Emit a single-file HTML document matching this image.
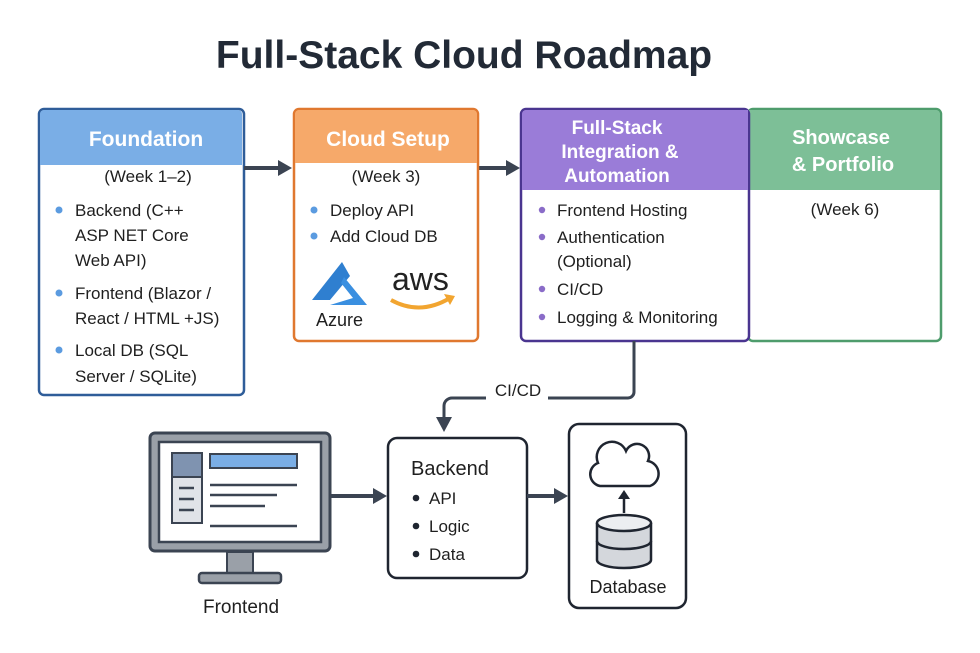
<!DOCTYPE html>
<html><head><meta charset="utf-8"><style>
html,body{margin:0;padding:0;background:#fff;}
svg{display:block;font-family:"Liberation Sans",sans-serif;}
</style></head><body>
<svg width="980" height="653" viewBox="0 0 980 653" xmlns="http://www.w3.org/2000/svg">
<rect width="980" height="653" fill="#fff"/>
<text x="464" y="68" text-anchor="middle" font-size="39" font-weight="bold" fill="#222a36">Full-Stack Cloud Roadmap</text>

<!-- Foundation -->
<rect x="39" y="109" width="205" height="286" rx="5" fill="#fff" stroke="#2f5d99" stroke-width="2.5"/>
<path d="M40 165 V114 a4 4 0 0 1 4 -4 H238 a4 4 0 0 1 4 4 V165 Z" fill="#7aaee6"/>
<text x="146" y="146" text-anchor="middle" font-size="21" font-weight="bold" fill="#fff">Foundation</text>
<g font-size="17" fill="#1f1f1f">
<text x="148" y="182" text-anchor="middle">(Week 1–2)</text>
<text x="75" y="216">Backend (C++</text>
<text x="75" y="241">ASP NET Core</text>
<text x="75" y="266">Web API)</text>
<text x="75" y="299">Frontend (Blazor /</text>
<text x="75" y="324">React / HTML +JS)</text>
<text x="75" y="356">Local DB (SQL</text>
<text x="75" y="382">Server / SQLite)</text>
</g>
<g fill="#5b9be0"><circle cx="59" cy="210" r="3.5"/><circle cx="59" cy="293" r="3.5"/><circle cx="59" cy="350" r="3.5"/></g>

<line x1="244" y1="168" x2="280" y2="168" stroke="#3b4452" stroke-width="4"/>
<polygon points="278,160 292,168 278,176" fill="#3b4452"/>
<line x1="478" y1="168" x2="508" y2="168" stroke="#3b4452" stroke-width="4"/>
<polygon points="506,160 520,168 506,176" fill="#3b4452"/>

<!-- Cloud Setup -->
<rect x="294" y="109" width="184" height="232" rx="5" fill="#fff" stroke="#e0782f" stroke-width="2.5"/>
<path d="M295 163 V114 a4 4 0 0 1 4 -4 H473 a4 4 0 0 1 4 4 V163 Z" fill="#f6a96a"/>
<text x="388" y="146" text-anchor="middle" font-size="21" font-weight="bold" fill="#fff">Cloud Setup</text>
<g font-size="17" fill="#1f1f1f">
<text x="386" y="182" text-anchor="middle">(Week 3)</text>
<text x="330" y="216">Deploy API</text>
<text x="330" y="242">Add Cloud DB</text>
<text x="316" y="326" font-size="18">Azure</text>
<text x="392" y="290" font-size="32" fill="#222">aws</text>
</g>
<g fill="#5b9be0"><circle cx="314" cy="210" r="3.5"/><circle cx="314" cy="236" r="3.5"/></g>
<polygon points="342,262 312,300 330,300 350,276" fill="#2f7fd0"/>
<polygon points="344,277 367,305 330,305 353,298 341,283" fill="#3a8fe0"/>
<path d="M391 300 Q420 316 450 298" fill="none" stroke="#f2a530" stroke-width="4"/>
<polygon points="444,294 455,296 450,305" fill="#f2a530"/>

<!-- Showcase -->
<rect x="748" y="109" width="193" height="232" rx="5" fill="#fff" stroke="#4e9c6c" stroke-width="2.5"/>
<path d="M749 190 V110 H936 a4 4 0 0 1 4 4 V190 Z" fill="#7dbf97"/>
<text x="841" y="144" text-anchor="middle" font-size="20" font-weight="bold" fill="#fff">Showcase</text>
<text x="843" y="171" text-anchor="middle" font-size="20" font-weight="bold" fill="#fff">&amp; Portfolio</text>
<text x="845" y="215" text-anchor="middle" font-size="17" fill="#1f1f1f">(Week 6)</text>

<!-- Full-Stack -->
<rect x="521" y="109" width="228" height="232" rx="5" fill="#fff" stroke="#4a3590" stroke-width="2.5"/>
<path d="M522 190 V114 a4 4 0 0 1 4 -4 H748 V190 Z" fill="#9a7cd8"/>
<g font-size="19" font-weight="bold" fill="#fff" text-anchor="middle">
<text x="617" y="134">Full-Stack</text>
<text x="620" y="158">Integration &amp;</text>
<text x="617" y="182">Automation</text>
</g>
<g font-size="17" fill="#1f1f1f">
<text x="557" y="216">Frontend Hosting</text>
<text x="557" y="243">Authentication</text>
<text x="557" y="267">(Optional)</text>
<text x="557" y="295">CI/CD</text>
<text x="557" y="323">Logging &amp; Monitoring</text>
</g>
<g fill="#8a6cc8"><circle cx="542" cy="210" r="3.2"/><circle cx="542" cy="237" r="3.2"/><circle cx="542" cy="289" r="3.2"/><circle cx="542" cy="317" r="3.2"/></g>

<!-- CI/CD connector -->
<path d="M634 341 V392 a6 6 0 0 1 -6 6 H548" fill="none" stroke="#3b4452" stroke-width="3"/>
<path d="M486 398 H452 a8 8 0 0 0 -8 8 V420" fill="none" stroke="#3b4452" stroke-width="3"/>
<polygon points="436,417 452,417 444,432" fill="#3b4452"/>
<text x="518" y="396" text-anchor="middle" font-size="17" fill="#1f1f1f">CI/CD</text>

<!-- Monitor -->
<rect x="150" y="433" width="180" height="118" rx="5" fill="#9aa0a8" stroke="#3b4452" stroke-width="3"/>
<rect x="159" y="442" width="162" height="100" fill="#fff" stroke="#3b4452" stroke-width="2.5"/>
<rect x="172" y="453" width="30" height="70" fill="#e0e3e8" stroke="#3b4452" stroke-width="2"/>
<rect x="172" y="453" width="30" height="24" fill="#7f93b0" stroke="#3b4452" stroke-width="2"/>
<g stroke="#3b4452" stroke-width="2.5">
<line x1="179" y1="488" x2="194" y2="488"/><line x1="179" y1="499" x2="194" y2="499"/><line x1="179" y1="510" x2="194" y2="510"/>
<line x1="210" y1="485" x2="297" y2="485"/><line x1="210" y1="495" x2="277" y2="495"/><line x1="210" y1="506" x2="265" y2="506"/><line x1="210" y1="526" x2="297" y2="526"/>
</g>
<rect x="210" y="454" width="87" height="14" fill="#7aaee6" stroke="#3b4452" stroke-width="2"/>
<rect x="227" y="552" width="26" height="22" fill="#9aa0a8" stroke="#3b4452" stroke-width="2"/>
<rect x="199" y="573" width="82" height="10" rx="3" fill="#9aa0a8" stroke="#3b4452" stroke-width="2.5"/>
<text x="241" y="613" text-anchor="middle" font-size="19" fill="#1f1f1f">Frontend</text>

<line x1="330" y1="496" x2="375" y2="496" stroke="#3b4452" stroke-width="4"/>
<polygon points="373,488 387,496 373,504" fill="#3b4452"/>

<!-- Backend -->
<rect x="388" y="438" width="139" height="140" rx="9" fill="#fff" stroke="#1f2530" stroke-width="2.5"/>
<text x="411" y="475" font-size="20" fill="#1f1f1f">Backend</text>
<g font-size="17" fill="#1f1f1f"><text x="429" y="504">API</text><text x="429" y="532">Logic</text><text x="429" y="560">Data</text></g>
<g fill="#1f2530"><circle cx="416" cy="498" r="3.3"/><circle cx="416" cy="526" r="3.3"/><circle cx="416" cy="554" r="3.3"/></g>

<line x1="527" y1="496" x2="556" y2="496" stroke="#3b4452" stroke-width="4"/>
<polygon points="554,488 568,496 554,504" fill="#3b4452"/>

<!-- Database -->
<rect x="569" y="424" width="117" height="184" rx="10" fill="#fff" stroke="#1f2530" stroke-width="2.5"/>
<path d="M600 486 a12 12 0 0 1 -2 -23 a15 15 0 0 1 28 -12 a12 12 0 0 1 22 10 a13 13 0 0 1 2 25 Z" fill="#fff" stroke="#1f2530" stroke-width="2.5"/>
<line x1="624" y1="513" x2="624" y2="496" stroke="#1f2530" stroke-width="2.5"/>
<polygon points="618,499 624,490 630,499" fill="#1f2530"/>
<path d="M597 523 V560 a27 8 0 0 0 54 0 V523" fill="#d4d7dc" stroke="#1f2530" stroke-width="2.5"/>
<path d="M597 541 a27 8 0 0 0 54 0" fill="none" stroke="#1f2530" stroke-width="2.5"/>
<ellipse cx="624" cy="523" rx="27" ry="8" fill="#eceef1" stroke="#1f2530" stroke-width="2.5"/>
<text x="628" y="593" text-anchor="middle" font-size="18" fill="#1f1f1f">Database</text>
</svg>
</body></html>
